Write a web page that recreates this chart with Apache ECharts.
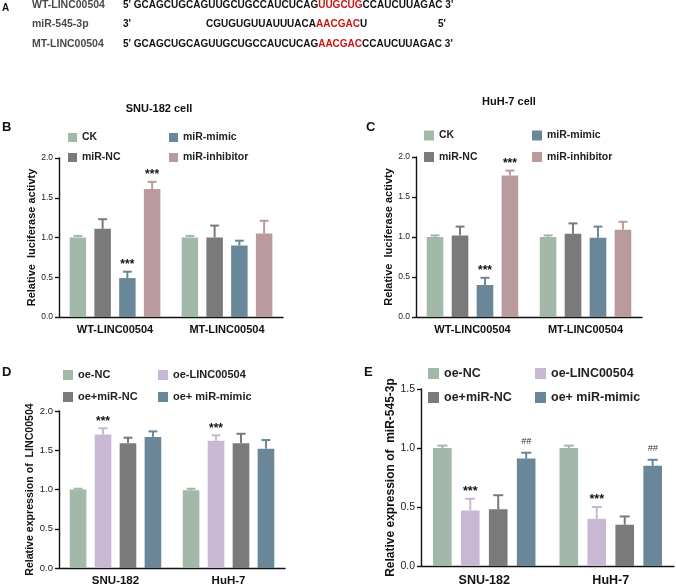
<!DOCTYPE html>
<html>
<head>
<meta charset="utf-8">
<script src="https://cdn.jsdelivr.net/npm/echarts@6/dist/echarts.min.js"></script>
<style>
  html, body { margin: 0; padding: 0; background: #fff; }
  #main { width: 676px; height: 587px; }
</style>
</head>
<body>
<div id="main"></div>
<script>
// panel B / C: luciferase reporter
const bcSeries = ['CK', 'miR-NC', 'miR-mimic', 'miR-inhibitor'];
const bcGroups = ['WT-LINC00504', 'MT-LINC00504'];
const bMean = [[1.00, 1.00], [1.11, 1.00], [0.49, 0.90], [1.61, 1.05]];
const bErr = [[0.02, 0.02], [0.12, 0.15], [0.08, 0.06], [0.09, 0.16]];
const bSig = [['', ''], ['', ''], ['***', ''], ['***', '']];
const cMean = [[1.00, 1.00], [1.02, 1.04], [0.40, 0.99], [1.77, 1.09]];
const cErr = [[0.02, 0.02], [0.11, 0.13], [0.09, 0.14], [0.06, 0.10]];
const cSig = [['', ''], ['', ''], ['***', ''], ['***', '']];

// panel D / E: overexpression
const deSeries = ['oe-NC', 'oe-LINC00504', 'oe+miR-NC', 'oe+ miR-mimic'];
const deGroups = ['SNU-182', 'HuH-7'];
const dMean = [[1.00, 0.99], [1.70, 1.62], [1.59, 1.59], [1.67, 1.52]];
const dErr = [[0.01, 0.02], [0.08, 0.07], [0.07, 0.12], [0.07, 0.11]];
const dSig = [['', ''], ['***', '***'], ['', ''], ['', '']];
const eMean = [[1.00, 1.00], [0.47, 0.40], [0.48, 0.35], [0.91, 0.85]];
const eErr = [[0.02, 0.02], [0.10, 0.10], [0.12, 0.07], [0.05, 0.05]];
const eSig = [['', ''], ['***', '***'], ['', ''], ['##', '##']];

const bcColors = ['#a2b8a8', '#7a7a7a', '#6a8799', '#b99b9d'];
const deColors = ['#a2b8a8', '#c8b8d4', '#7a7a7a', '#6a8799'];

const FONT = 'Liberation Sans';
const CAT_GAP = 0.19;
const BAR_GAP = 0.5;

function barSeries(grid, names, means, colors) {
  return names.map((name, i) => ({
    name: name,
    type: 'bar',
    xAxisIndex: grid,
    yAxisIndex: grid,
    barCategoryGap: (CAT_GAP * 100) + '%',
    barGap: (BAR_GAP * 100) + '%',
    itemStyle: { color: colors[i] },
    z: 3,
    data: means[i]
  }));
}

function errSeries(grid, means, errs, sigs, colors, sigSize) {
  const n = means.length;
  return means.map((m, i) => ({
    type: 'custom',
    xAxisIndex: grid,
    yAxisIndex: grid,
    z: 2,
    silent: true,
    data: m.map((v, g) => [g, v, v + errs[i][g]]),
    renderItem: function (params, api) {
      const g = api.value(0);
      const band = api.size([1, 0])[0];
      const w = band * (1 - CAT_GAP) / (n + (n - 1) * BAR_GAP);
      const x = api.coord([g, 0])[0] + (i - (n - 1) / 2) * w * (1 + BAR_GAP);
      const top = api.coord([g, api.value(1)])[1];
      const hi = api.coord([g, api.value(2)])[1];
      const st = { stroke: colors[i], lineWidth: 2 };
      const kids = [
        { type: 'line', shape: { x1: x, y1: top, x2: x, y2: hi }, style: st },
        { type: 'line', shape: { x1: x - w * 0.27, y1: hi, x2: x + w * 0.27, y2: hi }, style: st }
      ];
      const s = sigs[i][params.dataIndex];
      if (s) {
        const hash = s.indexOf('#') >= 0;
        kids.push({
          type: 'text',
          x: x, y: hash ? hi - 7 : hi - 1,
          style: {
            text: s, align: 'center', verticalAlign: 'bottom',
            fontFamily: FONT,
            fontSize: hash ? 9 : sigSize,
            fontWeight: hash ? 'normal' : 'bold',
            fontStyle: hash ? 'italic' : 'normal',
            fill: hash ? '#333' : '#111'
          }
        });
      }
      return { type: 'group', children: kids };
    }
  }));
}

function xAxisCfg(grid, labelSize, margin) {
  return {
    type: 'category', gridIndex: grid,
    data: grid < 2 ? bcGroups : deGroups,
    axisLine: { lineStyle: { color: '#111', width: 1.4 } },
    axisTick: { alignWithLabel: true, length: 4, lineStyle: { color: '#111', width: 1.4 } },
    axisLabel: { fontFamily: FONT, fontSize: labelSize, fontWeight: 'bold', color: '#111', margin: margin }
  };
}

function yAxisCfg(grid, max, name, nameSize, nameGap, labelSize) {
  return {
    type: 'value', gridIndex: grid, min: 0, max: max, interval: 0.5,
    name: name, nameLocation: 'middle', nameGap: nameGap,
    nameTextStyle: { fontFamily: FONT, fontSize: nameSize, fontWeight: 'bold', color: '#111' },
    axisLine: { show: true, lineStyle: { color: '#111', width: 1.4 } },
    axisTick: { show: true, length: 4, lineStyle: { color: '#111', width: 1.4 } },
    axisLabel: { fontFamily: FONT, fontSize: labelSize, color: '#222', margin: 6,
      formatter: v => v.toFixed(1) },
    splitLine: { show: false }
  };
}

function legendCol(names, left, top, size, icon, lh, gap) {
  return {
    data: names, orient: 'vertical', left: left, top: top, padding: 0,
    icon: 'rect', itemWidth: icon, itemHeight: icon, itemGap: gap,
    selectedMode: false,
    textStyle: { fontFamily: FONT, fontSize: size, fontWeight: 'bold', color: '#222', lineHeight: lh }
  };
}

function txt(x, y, text, size, color, weight, align) {
  return {
    type: 'text', x: x, y: y,
    style: { text: text, fontFamily: FONT, fontSize: size, fontWeight: weight || 'bold',
      fill: color || '#111', align: align || 'left', verticalAlign: 'middle' }
  };
}

function seqTxt(x, y, text) {
  return {
    type: 'text', x: x, y: y,
    style: {
      text: text, fontFamily: FONT, fontSize: 10, fontWeight: 'bold',
      fill: '#111', verticalAlign: 'middle',
      rich: { r: { fill: '#cc1414', fontFamily: FONT, fontSize: 10, fontWeight: 'bold' } }
    }
  };
}

const option = {
  animation: false,
  backgroundColor: '#fff',
  grid: [
    { left: 59, top: 158, width: 224, height: 159 },
    { left: 416, top: 157, width: 226, height: 160 },
    { left: 59, top: 411, width: 226, height: 160 },
    { left: 421, top: 389, width: 253, height: 179 }
  ],
  xAxis: [xAxisCfg(0, 11, 7), xAxisCfg(1, 11, 7), xAxisCfg(2, 11.5, 7), xAxisCfg(3, 12.5, 8)],
  yAxis: [
    yAxisCfg(0, 2, 'Relative  luciferase activty', 11, 18, 8.5),
    yAxisCfg(1, 2, 'Relative  luciferase activty', 11, 21, 8.5),
    yAxisCfg(2, 2, 'Relative expression of  LINC00504', 10.6, 21, 9.5),
    yAxisCfg(3, 1.5, 'Relative expression of  miR-545-3p', 12, 18, 10.5)
  ],
  legend: [
    legendCol(['CK', 'miR-NC'], 68, 131.5, 10.5, 9, 12, 8),
    legendCol(['miR-mimic', 'miR-inhibitor'], 169, 131.5, 10.5, 9, 12, 8),
    legendCol(['CK', 'miR-NC'], 424, 129.5, 10.5, 10, 12, 9.5),
    legendCol(['miR-mimic', 'miR-inhibitor'], 532, 129.5, 10.5, 10, 12, 9.5),
    legendCol(['oe-NC', 'oe+miR-NC'], 63, 368.5, 11, 10, 13, 9),
    legendCol(['oe-LINC00504', 'oe+ miR-mimic'], 158, 368.5, 11, 10, 13, 9),
    legendCol(['oe-NC', 'oe+miR-NC'], 428, 366.5, 12.5, 11, 14, 10),
    legendCol(['oe-LINC00504', 'oe+ miR-mimic'], 535, 366.5, 12.5, 11, 14, 10)
  ],
  graphic: [
    txt(2, 8.5, 'A', 10),
    txt(32, 5.5, 'WT-LINC00504', 10.5, '#4a4a4a'),
    txt(32, 24, 'miR-545-3p', 10.5, '#4a4a4a'),
    txt(32, 44, 'MT-LINC00504', 10.5, '#4a4a4a'),
    seqTxt(123, 5.5, "5' GCAGCUGCAGUUGCUGCCAUCUCAG{r|UUGCUG}CCAUCUUAGAC 3'"),
    seqTxt(123, 24, "3'"),
    seqTxt(206, 24, 'CGUGUGUUAUUUACA{r|AACGAC}U'),
    seqTxt(438, 24, "5'"),
    seqTxt(123, 44, "5' GCAGCUGCAGUUGCUGCCAUCUCAG{r|AACGAC}CCAUCUUAGAC 3'"),
    txt(159, 108.5, 'SNU-182 cell', 11, '#111', 'bold', 'center'),
    txt(509, 102, 'HuH-7 cell', 11, '#111', 'bold', 'center'),
    txt(2, 127.5, 'B', 13),
    txt(366, 127.5, 'C', 13),
    txt(2, 372, 'D', 13),
    txt(364, 372, 'E', 13)
  ],
  series: [].concat(
    barSeries(0, bcSeries, bMean, bcColors),
    errSeries(0, bMean, bErr, bSig, bcColors, 12),
    barSeries(1, bcSeries, cMean, bcColors),
    errSeries(1, cMean, cErr, cSig, bcColors, 12),
    barSeries(2, deSeries, dMean, deColors),
    errSeries(2, dMean, dErr, dSig, deColors, 12),
    barSeries(3, deSeries, eMean, deColors),
    errSeries(3, eMean, eErr, eSig, deColors, 12.5)
  )
};

const myChart = echarts.init(document.getElementById('main'));
myChart.setOption(option);
</script>
</body>
</html>
